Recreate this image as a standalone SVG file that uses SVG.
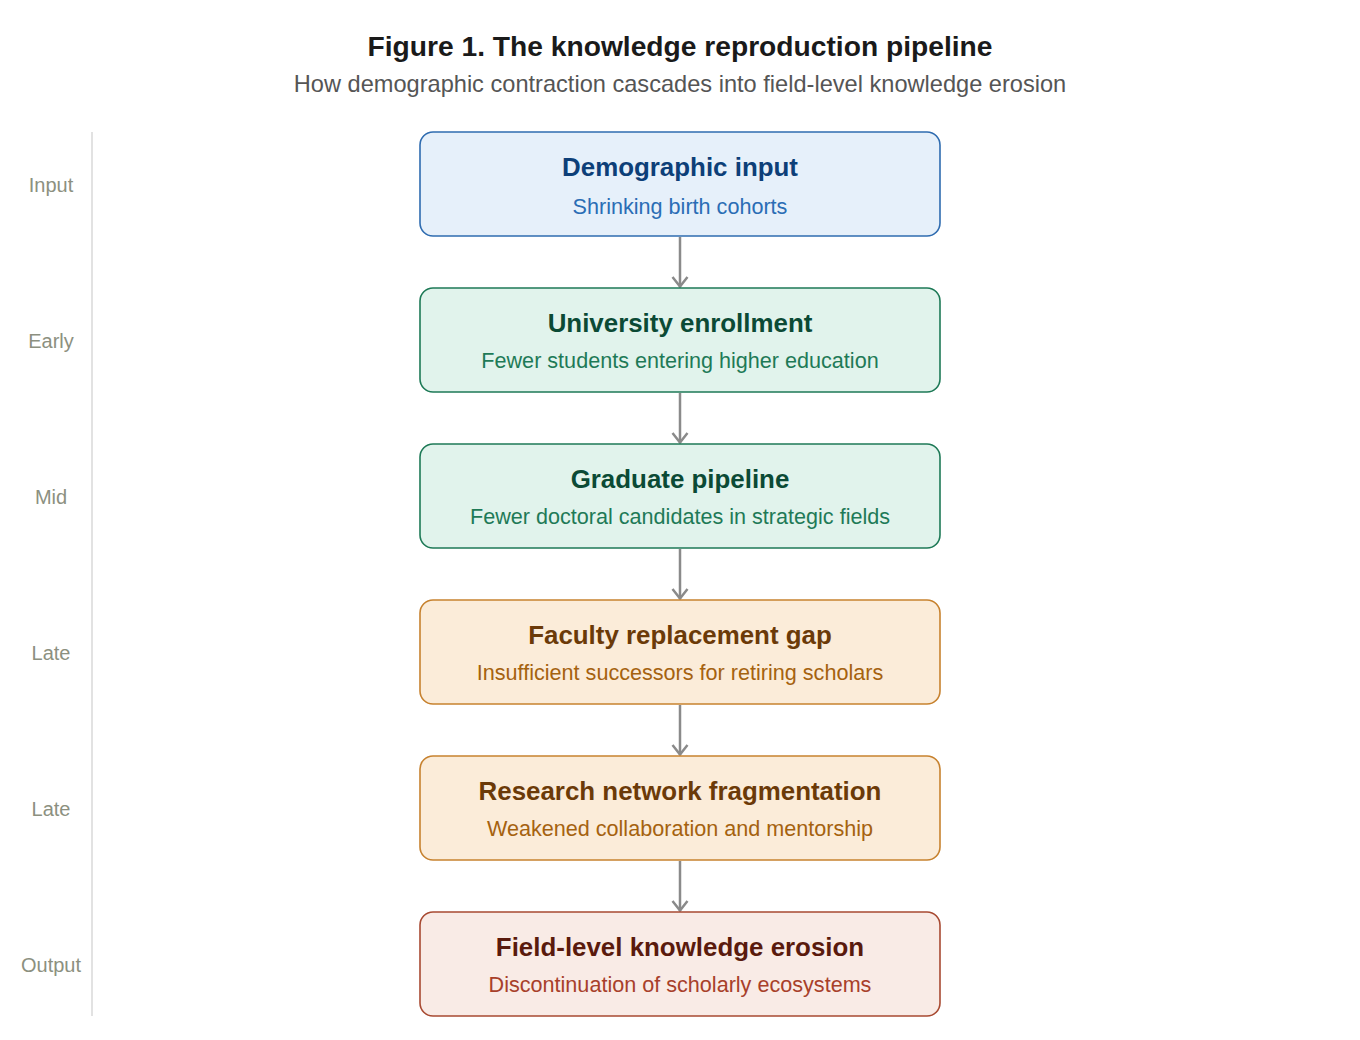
<svg xmlns="http://www.w3.org/2000/svg" width="1360" height="1040" viewBox="0 0 1360 1040">
<style>
text{font-family:"Liberation Sans",Arial,sans-serif;text-anchor:middle}
.title{font-size:28.2px;font-weight:bold;fill:#1a1a1a}
.sub{font-size:23.6px;fill:#555}
.stage{font-size:20px;fill:#8c9080}
.nt{font-size:25.9px;font-weight:bold}
.ns{font-size:21.6px}
.blue rect{fill:#e6f0fa;stroke:#2f6cb0;stroke-width:1.6}
.blue .nt{fill:#0d3f78}.blue .ns{fill:#2a6db5}
.green rect{fill:#e1f3ec;stroke:#1e7a57;stroke-width:1.6}
.green .nt{fill:#0b4a35}.green .ns{fill:#1e7a57}
.orange rect{fill:#fbecd9;stroke:#c7822f;stroke-width:1.6}
.orange .nt{fill:#6b3a08}.orange .ns{fill:#a5620f}
.red rect{fill:#f9ebe6;stroke:#a84a32;stroke-width:1.6}
.red .nt{fill:#5a1a0d}.red .ns{fill:#a8402a}
.edge{stroke:#8a8a8a;stroke-width:2.5;fill:none;marker-end:url(#arr)}
</style>
<defs>
<marker id="arr" viewBox="0 0 12 18" refX="11" refY="9" markerWidth="12" markerHeight="18" markerUnits="userSpaceOnUse" orient="auto">
<path d="M1,1.5 L10.5,9 L1,16.5" fill="none" stroke="#8a8a8a" stroke-width="2.5"/>
</marker>
</defs>
<rect width="1360" height="1040" fill="#fff"/>
<text class="title" x="680" y="56">Figure 1. The knowledge reproduction pipeline</text>
<text class="sub" x="680" y="92">How demographic contraction cascades into field-level knowledge erosion</text>
<line x1="92" y1="132" x2="92" y2="1016" stroke="#e2e2e2" stroke-width="2"/>
<g id="stages">
<text class="stage" x="51" y="192">Input</text>
<text class="stage" x="51" y="348">Early</text>
<text class="stage" x="51" y="504">Mid</text>
<text class="stage" x="51" y="660">Late</text>
<text class="stage" x="51" y="816">Late</text>
<text class="stage" x="51" y="972">Output</text>
</g>
<g id="connectors">
<line class="edge" x1="680" y1="237" x2="680" y2="287"/>
<line class="edge" x1="680" y1="393" x2="680" y2="443"/>
<line class="edge" x1="680" y1="549" x2="680" y2="599"/>
<line class="edge" x1="680" y1="705" x2="680" y2="755"/>
<line class="edge" x1="680" y1="861" x2="680" y2="911"/>
</g>
<g id="n1" class="blue"><rect x="420" y="132" width="520" height="104" rx="13"/><text class="nt" x="680" y="176">Demographic input</text><text class="ns" x="680" y="214">Shrinking birth cohorts</text></g>
<g id="n2" class="green"><rect x="420" y="288" width="520" height="104" rx="13"/><text class="nt" x="680" y="332">University enrollment</text><text class="ns" x="680" y="368">Fewer students entering higher education</text></g>
<g id="n3" class="green"><rect x="420" y="444" width="520" height="104" rx="13"/><text class="nt" x="680" y="488">Graduate pipeline</text><text class="ns" x="680" y="524">Fewer doctoral candidates in strategic fields</text></g>
<g id="n4" class="orange"><rect x="420" y="600" width="520" height="104" rx="13"/><text class="nt" x="680" y="644">Faculty replacement gap</text><text class="ns" x="680" y="680">Insufficient successors for retiring scholars</text></g>
<g id="n5" class="orange"><rect x="420" y="756" width="520" height="104" rx="13"/><text class="nt" x="680" y="800">Research network fragmentation</text><text class="ns" x="680" y="836">Weakened collaboration and mentorship</text></g>
<g id="n6" class="red"><rect x="420" y="912" width="520" height="104" rx="13"/><text class="nt" x="680" y="956">Field-level knowledge erosion</text><text class="ns" x="680" y="992">Discontinuation of scholarly ecosystems</text></g>
</svg>
